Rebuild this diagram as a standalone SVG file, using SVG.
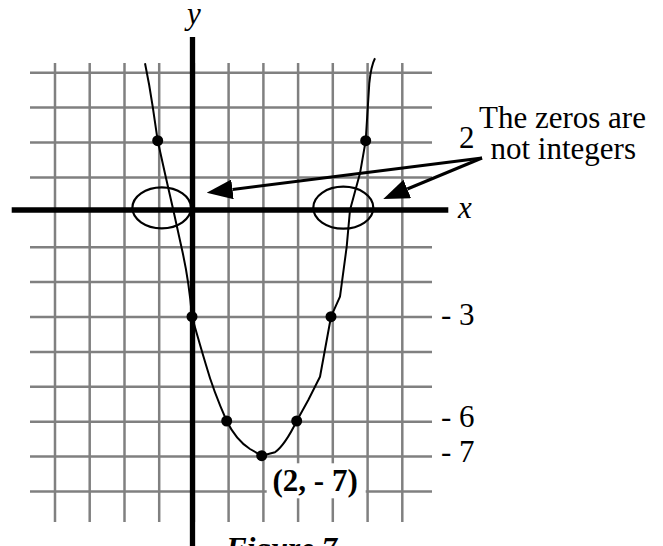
<svg xmlns="http://www.w3.org/2000/svg" width="663" height="546" viewBox="0 0 663 546">
<style>
.grid line{stroke:#808080;stroke-width:2.5}
.axis{stroke:#000;stroke-width:5.3}
.curve{fill:none;stroke:#000;stroke-width:2;stroke-linejoin:round}
.dot{fill:#000}
.oval{fill:none;stroke:#000;stroke-width:2.2}
.conn{stroke:#000;stroke-width:3;fill:none}
text{font-family:"Liberation Serif","Times New Roman",serif;font-size:31px;fill:#000}
.it{font-style:italic}
.bd{font-weight:bold}
</style>
<defs>
<marker id="ah" viewBox="0 0 26 20" markerWidth="26" markerHeight="20" refX="0" refY="10" orient="auto" markerUnits="userSpaceOnUse">
<path d="M0,0 L26,10 L0,20 Z" fill="#000"/>
</marker>
</defs>
<rect width="663" height="546" fill="#fff"/>
<g id="grid" class="grid">
<line x1="55" y1="63" x2="55" y2="522"/>
<line x1="89.7" y1="63" x2="89.7" y2="522"/>
<line x1="124.5" y1="63" x2="124.5" y2="522"/>
<line x1="159.2" y1="63" x2="159.2" y2="522"/>
<line x1="193.9" y1="63" x2="193.9" y2="522"/>
<line x1="228.6" y1="63" x2="228.6" y2="522"/>
<line x1="263.4" y1="63" x2="263.4" y2="522"/>
<line x1="298.1" y1="63" x2="298.1" y2="522"/>
<line x1="332.8" y1="63" x2="332.8" y2="522"/>
<line x1="367.6" y1="63" x2="367.6" y2="522"/>
<line x1="402.3" y1="63" x2="402.3" y2="522"/>
<line x1="30" y1="72.7" x2="432" y2="72.7"/>
<line x1="30" y1="107.6" x2="432" y2="107.6"/>
<line x1="30" y1="142.5" x2="432" y2="142.5"/>
<line x1="30" y1="177.4" x2="432" y2="177.4"/>
<line x1="30" y1="247.2" x2="432" y2="247.2"/>
<line x1="30" y1="282.1" x2="432" y2="282.1"/>
<line x1="30" y1="317" x2="432" y2="317"/>
<line x1="30" y1="351.9" x2="432" y2="351.9"/>
<line x1="30" y1="386.8" x2="432" y2="386.8"/>
<line x1="30" y1="421.7" x2="432" y2="421.7"/>
<line x1="30" y1="456.6" x2="432" y2="456.6"/>
<line x1="30" y1="491.5" x2="432" y2="491.5"/>
</g>
<g id="axes">
<line class="axis" x1="11.7" y1="210" x2="448.3" y2="210"/>
<line class="axis" x1="192.5" y1="37" x2="192.5" y2="546"/>
<text class="it" x="187" y="23.5">y</text>
<text class="it" x="458" y="217.5">x</text>
</g>
<g id="parabola">
<path class="curve" d="M145,63.3 Q149.5,85 152.7,106.7 L157.7,140.7 L165.7,176.7 L173.3,210 L181.7,248.3 Q189,280 192,316.7 Q200,345 206,365 Q213,390 226.7,421 Q236,440 250,449 L261.7,455.7 L275,452.3 Q285,445 296.7,421 L308.3,400 L320,376.7 L331,316.7 L340,296.7 L346.7,246.7 L350,210 L360,173.3 L365.7,140.7 L369.3,83.3 Q371,66 375,58.3"/>
</g>
<g id="points">
<circle class="dot" cx="157.7" cy="140.7" r="5.5"/>
<circle class="dot" cx="192" cy="316.7" r="5.5"/>
<circle class="dot" cx="226.7" cy="421" r="5.5"/>
<circle class="dot" cx="261.7" cy="455.7" r="5.5"/>
<circle class="dot" cx="296.7" cy="421" r="5.5"/>
<circle class="dot" cx="331" cy="316.7" r="5.5"/>
<circle class="dot" cx="365.7" cy="140.7" r="5.5"/>
</g>
<g id="zero-left">
<ellipse class="oval" cx="161.7" cy="207.8" rx="29.3" ry="20.5"/>
</g>
<g id="zero-right">
<ellipse class="oval" cx="343.3" cy="207.7" rx="30" ry="21"/>
</g>
<g id="note">
<text x="479" y="127.7">The zeros are</text>
<text x="490.5" y="159">not integers</text>
<text x="459" y="148.3">2</text>
</g>
<g id="connectors">
<line class="conn" x1="482" y1="158" x2="232.5" y2="189.45" marker-end="url(#ah)"/>
<line class="conn" x1="482" y1="158" x2="407.3" y2="189" marker-end="url(#ah)"/>
</g>
<g id="ylabels">
<text x="441" y="325">- 3</text>
<text x="441" y="426.7">- 6</text>
<text x="441" y="461.7">- 7</text>
</g>
<g id="vertex-label">
<rect x="266.7" y="463.3" width="99" height="35" fill="#fff"/>
<text class="bd" x="272.5" y="491">(2, - 7)</text>
</g>
<g id="caption">
<text class="bd it" x="226" y="559">Figure 7</text>
</g>
</svg>
